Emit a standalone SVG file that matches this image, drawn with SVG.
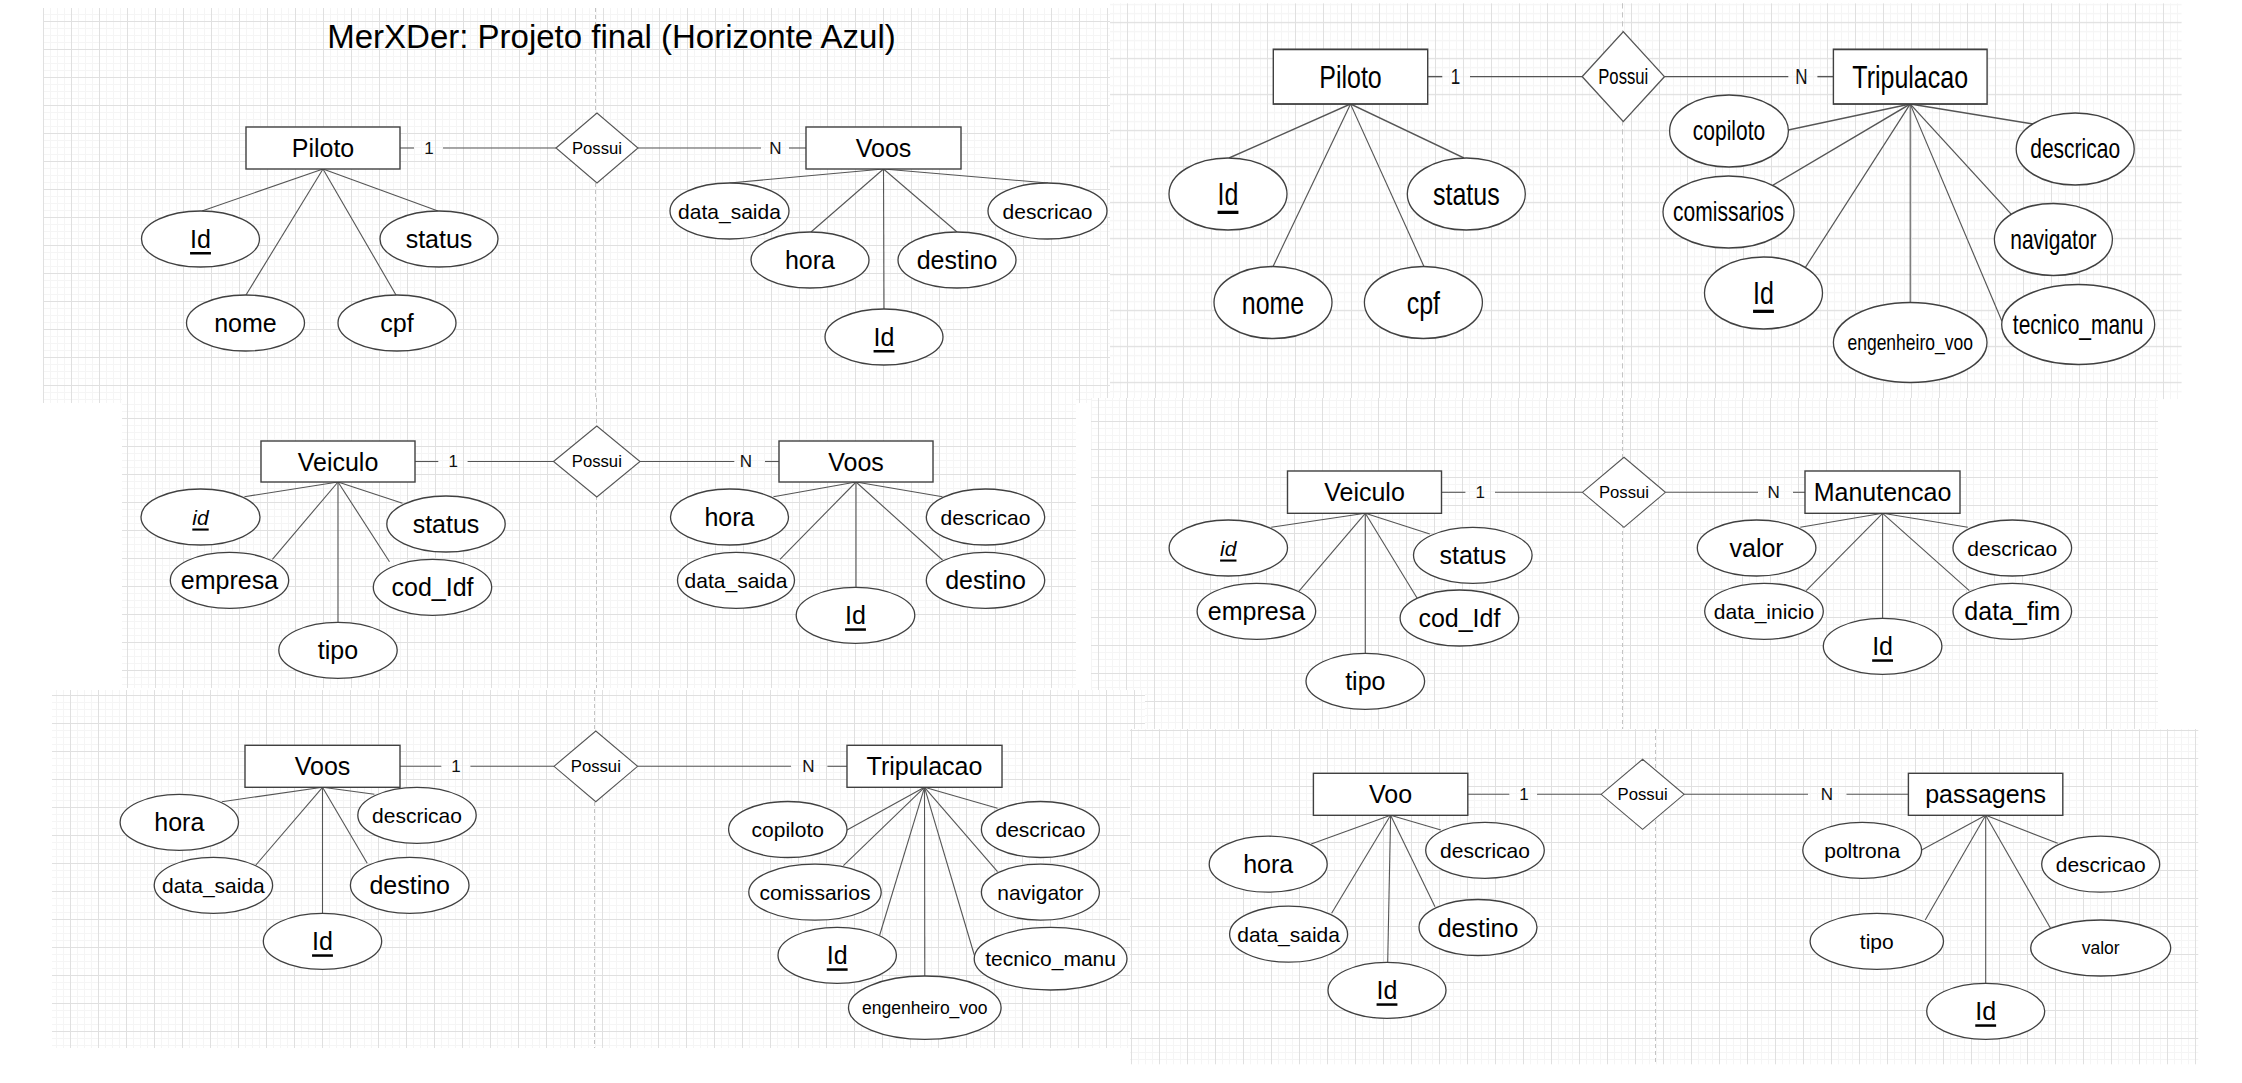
<svg xmlns="http://www.w3.org/2000/svg" width="2242" height="1083" viewBox="0 0 2242 1083">
<defs>
<style>
.t{font-family:"Liberation Sans",Arial,sans-serif;text-anchor:middle;dominant-baseline:central;fill:#000}
.f25{font-size:25px}.f21{font-size:21px}.f17{font-size:17.5px}
.u{text-decoration:underline}.i{font-style:italic}
.rl{font-size:16.7px}.cd{font-size:17px;fill:#111}
.ent rect{fill:#fff;stroke:#404040;stroke-width:1.4}
.attr ellipse{fill:#fff;stroke:#404040;stroke-width:1.3}
.rel polygon{fill:#fff;stroke:#555;stroke-width:1.1}
.con line{stroke:#555;stroke-width:1.1}
.pb{stroke:#c4c4c4;stroke-width:1;stroke-dasharray:4 3}
.minor{stroke:#f5f5f5;stroke-width:1;fill:none}
.major{stroke:#e0e0e0;stroke-width:1;fill:none}
</style>
<pattern id="g1" patternUnits="userSpaceOnUse" x="43" y="21" width="28" height="28"><rect width="28" height="28" fill="#fff"/><path class="minor" d="M7.5 0V28M14.5 0V28M21.5 0V28M0 7.5H28M0 14.5H28M0 21.5H28"/><path class="major" d="M0.5 0V28M0 0.5H28"/></pattern>
<pattern id="g2" patternUnits="userSpaceOnUse" x="1127" y="17" width="28" height="28"><rect width="28" height="28" fill="#fff"/><path class="minor" d="M7.5 0V28M14.5 0V28M21.5 0V28M0 7.5H28M0 14.5H28M0 21.5H28"/><path class="major" d="M0.5 0V28M0 0.5H28"/></pattern>
<pattern id="g3" patternUnits="userSpaceOnUse" x="127" y="418" width="28" height="28"><rect width="28" height="28" fill="#fff"/><path class="minor" d="M7.5 0V28M14.5 0V28M21.5 0V28M0 7.5H28M0 14.5H28M0 21.5H28"/><path class="major" d="M0.5 0V28M0 0.5H28"/></pattern>
<pattern id="g4" patternUnits="userSpaceOnUse" x="1098" y="421" width="28" height="28"><rect width="28" height="28" fill="#fff"/><path class="minor" d="M7.5 0V28M14.5 0V28M21.5 0V28M0 7.5H28M0 14.5H28M0 21.5H28"/><path class="major" d="M0.5 0V28M0 0.5H28"/></pattern>
<pattern id="g5" patternUnits="userSpaceOnUse" x="1050" y="695" width="28" height="28"><rect width="28" height="28" fill="#fff"/><path class="minor" d="M7.5 0V28M14.5 0V28M21.5 0V28M0 7.5H28M0 14.5H28M0 21.5H28"/><path class="major" d="M0.5 0V28M0 0.5H28"/></pattern>
<pattern id="g6" patternUnits="userSpaceOnUse" x="1159" y="730" width="28" height="28"><rect width="28" height="28" fill="#fff"/><path class="minor" d="M7.5 0V28M14.5 0V28M21.5 0V28M0 7.5H28M0 14.5H28M0 21.5H28"/><path class="major" d="M0.5 0V28M0 0.5H28"/></pattern>
</defs>
<rect width="2242" height="1083" fill="#fff"/>

<!-- Panel 1 -->
<g id="panel1">
<rect x="43" y="8" width="1067" height="395" fill="url(#g1)"/>
<line class="pb" x1="595.5" y1="8" x2="595.5" y2="403"/>
<text id="title" class="t" x="611.5" y="36" style="font-size:33px">MerXDer: Projeto final (Horizonte Azul)</text>
<g id="p1-connectors" class="con">
<line x1="400" y1="148" x2="414" y2="148"/><line x1="443" y1="148" x2="556" y2="148"/>
<line x1="638" y1="148" x2="761" y2="148"/><line x1="789" y1="148" x2="806" y2="148"/>
<line x1="323" y1="169" x2="202" y2="211"/><line x1="323" y1="169" x2="438" y2="211"/>
<line x1="323" y1="169" x2="246" y2="295"/><line x1="323" y1="169" x2="396" y2="295"/>
<line x1="883.5" y1="169" x2="729.5" y2="183"/><line x1="883.5" y1="169" x2="1048" y2="183"/>
<line x1="883.5" y1="169" x2="811" y2="232"/><line x1="883.5" y1="169" x2="957" y2="232"/>
<line x1="883.5" y1="169" x2="884" y2="309"/>
</g>
<text class="t cd" x="429" y="148">1</text><text class="t cd" x="775.5" y="148">N</text>
<g id="p1-piloto" class="ent"><rect x="246" y="127" width="154" height="42"/><text class="t f25" x="323" y="148">Piloto</text></g>
<g id="p1-possui" class="rel"><polygon points="556,148 597,113 638,148 597,183"/><text class="t rl" x="597" y="148">Possui</text></g>
<g id="p1-voos" class="ent"><rect x="806" y="127" width="155" height="42"/><text class="t f25" x="883.5" y="148">Voos</text></g>
<g id="p1-id" class="attr"><ellipse cx="200.5" cy="239" rx="59" ry="28"/><text class="t f25 u" x="200.5" y="239">Id</text></g>
<g id="p1-status" class="attr"><ellipse cx="439" cy="239" rx="59" ry="28"/><text class="t f25" x="439" y="239">status</text></g>
<g id="p1-nome" class="attr"><ellipse cx="245.5" cy="323" rx="59" ry="28"/><text class="t f25" x="245.5" y="323">nome</text></g>
<g id="p1-cpf" class="attr"><ellipse cx="397" cy="323" rx="59" ry="28"/><text class="t f25" x="397" y="323">cpf</text></g>
<g id="p1-data-saida" class="attr"><ellipse cx="729.5" cy="211" rx="59.5" ry="28"/><text class="t f21" x="729.5" y="211">data_saida</text></g>
<g id="p1-descricao" class="attr"><ellipse cx="1047.5" cy="211" rx="59.5" ry="28"/><text class="t f21" x="1047.5" y="211">descricao</text></g>
<g id="p1-hora" class="attr"><ellipse cx="810" cy="260" rx="59" ry="28"/><text class="t f25" x="810" y="260">hora</text></g>
<g id="p1-destino" class="attr"><ellipse cx="957" cy="260" rx="59" ry="28"/><text class="t f25" x="957" y="260">destino</text></g>
<g id="p1-voos-id" class="attr"><ellipse cx="884" cy="337" rx="59" ry="28"/><text class="t f25 u" x="884" y="337">Id</text></g>
</g>

<!-- Panel 2 (vertically stretched) -->
<g id="panel2" transform="scale(1,1.2857)">
<rect x="1110" y="2.6" width="1071.6" height="307.8" fill="url(#g2)"/>
<line class="pb" x1="1622.5" y1="2.6" x2="1622.5" y2="310.4"/>
<g id="p2-connectors" class="con">
<line x1="1427.7" y1="59.6" x2="1442.3" y2="59.6"/><line x1="1470" y1="59.6" x2="1582.2" y2="59.6"/>
<line x1="1664.5" y1="59.6" x2="1788.3" y2="59.6"/><line x1="1817.4" y1="59.6" x2="1833.4" y2="59.6"/>
<line x1="1350.5" y1="80.9" x2="1229" y2="122.9"/><line x1="1350.5" y1="80.9" x2="1464" y2="122.9"/>
<line x1="1350.5" y1="80.9" x2="1273" y2="207.3"/><line x1="1350.5" y1="80.9" x2="1424" y2="207.3"/>
<line x1="1910.2" y1="80.9" x2="1788.3" y2="101.1"/><line x1="1910.2" y1="80.9" x2="1773" y2="144"/>
<line x1="1910.2" y1="80.9" x2="1805" y2="208.5"/><line x1="1910.2" y1="80.9" x2="1910.2" y2="235.3"/>
<line x1="1910.2" y1="80.9" x2="2002" y2="250"/><line x1="1910.2" y1="80.9" x2="2011" y2="166.5"/>
<line x1="1910.2" y1="80.9" x2="2033" y2="96.5"/>
</g>
<text class="t cd" x="1455.4" y="59.6">1</text><text class="t cd" x="1801.4" y="59.6">N</text>
<g id="p2-piloto" class="ent"><rect x="1273.3" y="38.4" width="154.4" height="42.5"/><text class="t f25" x="1350.5" y="59.6">Piloto</text></g>
<g id="p2-possui" class="rel"><polygon points="1582.2,59.6 1623.3,24.6 1664.5,59.6 1623.3,94.6"/><text class="t rl" x="1623.3" y="59.6">Possui</text></g>
<g id="p2-tripulacao" class="ent"><rect x="1833.4" y="38.4" width="153.7" height="42.5"/><text class="t f25" x="1910.2" y="59.6">Tripulacao</text></g>
<g id="p2-id" class="attr"><ellipse cx="1228" cy="150.9" rx="59" ry="28"/><text class="t f25 u" x="1228" y="150.9">Id</text></g>
<g id="p2-status" class="attr"><ellipse cx="1466.3" cy="150.9" rx="59" ry="28"/><text class="t f25" x="1466.3" y="150.9">status</text></g>
<g id="p2-nome" class="attr"><ellipse cx="1273" cy="235.3" rx="59" ry="28"/><text class="t f25" x="1273" y="235.3">nome</text></g>
<g id="p2-cpf" class="attr"><ellipse cx="1423.4" cy="235.3" rx="59" ry="28"/><text class="t f25" x="1423.4" y="235.3">cpf</text></g>
<g id="p2-copiloto" class="attr"><ellipse cx="1729" cy="101.9" rx="59.4" ry="28"/><text class="t f21" x="1729" y="101.9">copiloto</text></g>
<g id="p2-comissarios" class="attr"><ellipse cx="1728.5" cy="164.9" rx="65.5" ry="28"/><text class="t f21" x="1728.5" y="164.9">comissarios</text></g>
<g id="p2-descricao" class="attr"><ellipse cx="2075.2" cy="115.9" rx="59" ry="28"/><text class="t f21" x="2075.2" y="115.9">descricao</text></g>
<g id="p2-navigator" class="attr"><ellipse cx="2053.4" cy="186.3" rx="59" ry="28"/><text class="t f21" x="2053.4" y="186.3">navigator</text></g>
<g id="p2-trip-id" class="attr"><ellipse cx="1763.5" cy="227.9" rx="59" ry="28"/><text class="t f25 u" x="1763.5" y="227.9">Id</text></g>
<g id="p2-engenheiro" class="attr"><ellipse cx="1910.2" cy="266.4" rx="76.8" ry="31.1"/><text class="t f17" x="1910.2" y="266.4">engenheiro_voo</text></g>
<g id="p2-tecnico" class="attr"><ellipse cx="2078.2" cy="252.4" rx="76.5" ry="31.1"/><text class="t f21" x="2078.2" y="252.4">tecnico_manu</text></g>
</g>

<!-- Panel 3 -->
<g id="panel3">
<rect x="122" y="398" width="954" height="290" fill="url(#g3)"/>
<line class="pb" x1="596.5" y1="398" x2="596.5" y2="688"/>
<g id="p3-connectors" class="con">
<line x1="415" y1="461.5" x2="438.3" y2="461.5"/><line x1="467.6" y1="461.5" x2="553.5" y2="461.5"/>
<line x1="640" y1="461.5" x2="734.3" y2="461.5"/><line x1="765" y1="461.5" x2="779" y2="461.5"/>
<line x1="338" y1="482" x2="244.4" y2="496.7"/><line x1="338" y1="482" x2="272.4" y2="559.3"/>
<line x1="338" y1="482" x2="338" y2="622.3"/><line x1="338" y1="482" x2="389.5" y2="561.7"/>
<line x1="338" y1="482" x2="402.5" y2="503.3"/>
<line x1="856" y1="482" x2="773.4" y2="496.7"/><line x1="856" y1="482" x2="780" y2="559.3"/>
<line x1="856" y1="482" x2="856" y2="587.3"/><line x1="856" y1="482" x2="942.5" y2="560"/>
<line x1="856" y1="482" x2="942.5" y2="496.7"/>
</g>
<text class="t cd" x="453.3" y="461.5">1</text><text class="t cd" x="746" y="461.5">N</text>
<g id="p3-veiculo" class="ent"><rect x="261" y="441" width="154" height="41"/><text class="t f25" x="338" y="461.5">Veiculo</text></g>
<g id="p3-possui" class="rel"><polygon points="553.5,461.5 596.8,426 640,461.5 596.8,497"/><text class="t rl" x="596.8" y="461.5">Possui</text></g>
<g id="p3-voos" class="ent"><rect x="779" y="441" width="154" height="41"/><text class="t f25" x="856" y="461.5">Voos</text></g>
<g id="p3-id" class="attr"><ellipse cx="200.5" cy="517" rx="59.5" ry="28"/><text class="t f21 u i" x="200.5" y="517">id</text></g>
<g id="p3-empresa" class="attr"><ellipse cx="229.5" cy="580.3" rx="59.2" ry="28"/><text class="t f25" x="229.5" y="580.3">empresa</text></g>
<g id="p3-tipo" class="attr"><ellipse cx="338" cy="650.3" rx="59.2" ry="28"/><text class="t f25" x="338" y="650.3">tipo</text></g>
<g id="p3-cod-idf" class="attr"><ellipse cx="432.5" cy="587.3" rx="59.2" ry="28"/><text class="t f25" x="432.5" y="587.3">cod_Idf</text></g>
<g id="p3-status" class="attr"><ellipse cx="446" cy="524" rx="59.2" ry="28"/><text class="t f25" x="446" y="524">status</text></g>
<g id="p3-hora" class="attr"><ellipse cx="729.5" cy="517" rx="59" ry="28"/><text class="t f25" x="729.5" y="517">hora</text></g>
<g id="p3-data-saida" class="attr"><ellipse cx="736" cy="580.3" rx="58.5" ry="28"/><text class="t f21" x="736" y="580.3">data_saida</text></g>
<g id="p3-voos-id" class="attr"><ellipse cx="855.5" cy="615.3" rx="59.3" ry="28"/><text class="t f25 u" x="855.5" y="615.3">Id</text></g>
<g id="p3-destino" class="attr"><ellipse cx="985.5" cy="580.3" rx="59.2" ry="28"/><text class="t f25" x="985.5" y="580.3">destino</text></g>
<g id="p3-descricao" class="attr"><ellipse cx="985.5" cy="517" rx="59.2" ry="28"/><text class="t f21" x="985.5" y="517">descricao</text></g>
</g>

<!-- Panel 4 -->
<g id="panel4">
<rect x="1091" y="398" width="1067" height="331" fill="url(#g4)"/>
<line class="pb" x1="1622.5" y1="398" x2="1622.5" y2="729"/>
<g id="p4-connectors" class="con">
<line x1="1441.6" y1="492.3" x2="1465.4" y2="492.3"/><line x1="1495" y1="492.3" x2="1582.4" y2="492.3"/>
<line x1="1665.4" y1="492.3" x2="1758" y2="492.3"/><line x1="1793" y1="492.3" x2="1805" y2="492.3"/>
<line x1="1365.3" y1="513.3" x2="1271.2" y2="527.3"/><line x1="1365.3" y1="513.3" x2="1298.6" y2="591.7"/>
<line x1="1365.3" y1="513.3" x2="1365.3" y2="653.3"/><line x1="1365.3" y1="513.3" x2="1417.2" y2="598.3"/>
<line x1="1365.3" y1="513.3" x2="1429.8" y2="534"/>
<line x1="1882.6" y1="513.3" x2="1800.3" y2="527.3"/><line x1="1882.6" y1="513.3" x2="1806.2" y2="590.7"/>
<line x1="1882.6" y1="513.3" x2="1882.6" y2="618.3"/><line x1="1882.6" y1="513.3" x2="1969.3" y2="590.7"/>
<line x1="1882.6" y1="513.3" x2="1967.8" y2="527.3"/>
</g>
<text class="t cd" x="1480.2" y="492.3">1</text><text class="t cd" x="1773.6" y="492.3">N</text>
<g id="p4-veiculo" class="ent"><rect x="1287.5" y="471" width="154" height="42.3"/><text class="t f25" x="1364.5" y="492.3">Veiculo</text></g>
<g id="p4-possui" class="rel"><polygon points="1582.4,492.3 1624,457.3 1665.4,492.3 1624,527.3"/><text class="t rl" x="1624" y="492.3">Possui</text></g>
<g id="p4-manutencao" class="ent"><rect x="1805" y="471" width="155" height="42.3"/><text class="t f25" x="1882.5" y="492.3">Manutencao</text></g>
<g id="p4-id" class="attr"><ellipse cx="1228.3" cy="548" rx="59.2" ry="28"/><text class="t f21 u i" x="1228.3" y="548">id</text></g>
<g id="p4-empresa" class="attr"><ellipse cx="1256.4" cy="611.3" rx="59.3" ry="28"/><text class="t f25" x="1256.4" y="611.3">empresa</text></g>
<g id="p4-tipo" class="attr"><ellipse cx="1365.3" cy="681.3" rx="59.3" ry="28"/><text class="t f25" x="1365.3" y="681.3">tipo</text></g>
<g id="p4-cod-idf" class="attr"><ellipse cx="1459.4" cy="618" rx="59.3" ry="28"/><text class="t f25" x="1459.4" y="618">cod_Idf</text></g>
<g id="p4-status" class="attr"><ellipse cx="1472.8" cy="555.3" rx="59.3" ry="28"/><text class="t f25" x="1472.8" y="555.3">status</text></g>
<g id="p4-valor" class="attr"><ellipse cx="1756.6" cy="548" rx="59.3" ry="28"/><text class="t f25" x="1756.6" y="548">valor</text></g>
<g id="p4-data-inicio" class="attr"><ellipse cx="1764" cy="611.3" rx="59.3" ry="28"/><text class="t f21" x="1764" y="611.3">data_inicio</text></g>
<g id="p4-manut-id" class="attr"><ellipse cx="1882.6" cy="646.3" rx="59.3" ry="28"/><text class="t f25 u" x="1882.6" y="646.3">Id</text></g>
<g id="p4-data-fim" class="attr"><ellipse cx="2012.3" cy="611.3" rx="59.3" ry="28"/><text class="t f25" x="2012.3" y="611.3">data_fim</text></g>
<g id="p4-descricao" class="attr"><ellipse cx="2012.3" cy="548" rx="59.3" ry="28"/><text class="t f21" x="2012.3" y="548">descricao</text></g>
</g>

<!-- Panel 5 -->
<g id="panel5">
<rect x="52" y="690" width="1093" height="358" fill="url(#g5)"/>
<line class="pb" x1="594.5" y1="690" x2="594.5" y2="1048"/>
<g id="p5-connectors" class="con">
<line x1="400" y1="766.3" x2="441.3" y2="766.3"/><line x1="470.4" y1="766.3" x2="554" y2="766.3"/>
<line x1="637.6" y1="766.3" x2="791" y2="766.3"/><line x1="827.4" y1="766.3" x2="847" y2="766.3"/>
<line x1="322.5" y1="787.3" x2="221.8" y2="801.7"/><line x1="322.5" y1="787.3" x2="374.4" y2="794.3"/>
<line x1="322.5" y1="787.3" x2="255.9" y2="865"/><line x1="322.5" y1="787.3" x2="367.2" y2="863.3"/>
<line x1="322.5" y1="787.3" x2="322.5" y2="913.3"/>
<line x1="924.5" y1="787.3" x2="847" y2="830"/><line x1="924.5" y1="787.3" x2="843.4" y2="865.7"/>
<line x1="924.5" y1="787.3" x2="879.7" y2="935"/><line x1="924.5" y1="787.3" x2="924.8" y2="976"/>
<line x1="924.5" y1="787.3" x2="974.3" y2="955"/><line x1="924.5" y1="787.3" x2="997.5" y2="871.7"/>
<line x1="924.5" y1="787.3" x2="997.5" y2="808.3"/>
</g>
<text class="t cd" x="455.9" y="766.3">1</text><text class="t cd" x="808.5" y="766.3">N</text>
<g id="p5-voos" class="ent"><rect x="245" y="745.3" width="155" height="42"/><text class="t f25" x="322.5" y="766.3">Voos</text></g>
<g id="p5-possui" class="rel"><polygon points="554,766.3 595.8,731 637.6,766.3 595.8,801.7"/><text class="t rl" x="595.8" y="766.3">Possui</text></g>
<g id="p5-tripulacao" class="ent"><rect x="847" y="745.3" width="155" height="42"/><text class="t f25" x="924.5" y="766.3">Tripulacao</text></g>
<g id="p5-hora" class="attr"><ellipse cx="179.3" cy="822.3" rx="59.2" ry="28"/><text class="t f25" x="179.3" y="822.3">hora</text></g>
<g id="p5-descricao" class="attr"><ellipse cx="417" cy="815.3" rx="59.2" ry="28"/><text class="t f21" x="417" y="815.3">descricao</text></g>
<g id="p5-data-saida" class="attr"><ellipse cx="213.4" cy="885.3" rx="59.2" ry="28"/><text class="t f21" x="213.4" y="885.3">data_saida</text></g>
<g id="p5-destino" class="attr"><ellipse cx="409.7" cy="885.3" rx="59.3" ry="28"/><text class="t f25" x="409.7" y="885.3">destino</text></g>
<g id="p5-voos-id" class="attr"><ellipse cx="322.5" cy="941.3" rx="59.2" ry="28"/><text class="t f25 u" x="322.5" y="941.3">Id</text></g>
<g id="p5-copiloto" class="attr"><ellipse cx="787.8" cy="829.5" rx="59.2" ry="28"/><text class="t f21" x="787.8" y="829.5">copiloto</text></g>
<g id="p5-comissarios" class="attr"><ellipse cx="815" cy="892.2" rx="66.2" ry="28"/><text class="t f21" x="815" y="892.2">comissarios</text></g>
<g id="p5-trip-id" class="attr"><ellipse cx="837.2" cy="955.3" rx="59.2" ry="28"/><text class="t f25 u" x="837.2" y="955.3">Id</text></g>
<g id="p5-engenheiro" class="attr"><ellipse cx="924.8" cy="1007.7" rx="76.3" ry="31.7"/><text class="t f17" x="924.8" y="1007.7">engenheiro_voo</text></g>
<g id="p5-tecnico" class="attr"><ellipse cx="1050.6" cy="958.7" rx="76.4" ry="31.3"/><text class="t f21" x="1050.6" y="958.7">tecnico_manu</text></g>
<g id="p5-navigator" class="attr"><ellipse cx="1040.4" cy="892.2" rx="59" ry="28"/><text class="t f21" x="1040.4" y="892.2">navigator</text></g>
<g id="p5-trip-descricao" class="attr"><ellipse cx="1040.4" cy="829.5" rx="59" ry="28"/><text class="t f21" x="1040.4" y="829.5">descricao</text></g>
</g>

<!-- Panel 6 -->
<g id="panel6">
<rect x="1130" y="729" width="1068.3" height="335.3" fill="url(#g6)"/>
<line class="pb" x1="1655.5" y1="729" x2="1655.5" y2="1064"/>
<g id="p6-connectors" class="con">
<line x1="1467.8" y1="794.3" x2="1509.3" y2="794.3"/><line x1="1537" y1="794.3" x2="1601.1" y2="794.3"/>
<line x1="1684.1" y1="794.3" x2="1808" y2="794.3"/><line x1="1846.5" y1="794.3" x2="1908.4" y2="794.3"/>
<line x1="1390.6" y1="815.3" x2="1311.2" y2="844"/><line x1="1390.6" y1="815.3" x2="1440.9" y2="830"/>
<line x1="1390.6" y1="815.3" x2="1331.6" y2="913.3"/><line x1="1390.6" y1="815.3" x2="1435" y2="906.7"/>
<line x1="1390.6" y1="815.3" x2="1387.7" y2="962.3"/>
<line x1="1985.7" y1="815.3" x2="1921.6" y2="850"/><line x1="1985.7" y1="815.3" x2="2057.7" y2="843.3"/>
<line x1="1985.7" y1="815.3" x2="1925.2" y2="920"/><line x1="1985.7" y1="815.3" x2="2050.5" y2="928.3"/>
<line x1="1985.7" y1="815.3" x2="1985.7" y2="983.3"/>
</g>
<text class="t cd" x="1523.9" y="794.3">1</text><text class="t cd" x="1826.9" y="794.3">N</text>
<g id="p6-voo" class="ent"><rect x="1313.4" y="773.3" width="154.4" height="42"/><text class="t f25" x="1390.6" y="794.3">Voo</text></g>
<g id="p6-possui" class="rel"><polygon points="1601.1,794.3 1642.6,759.3 1684.1,794.3 1642.6,829.3"/><text class="t rl" x="1642.6" y="794.3">Possui</text></g>
<g id="p6-passagens" class="ent"><rect x="1908.4" y="773.3" width="154.4" height="42"/><text class="t f25" x="1985.6" y="794.3">passagens</text></g>
<g id="p6-hora" class="attr"><ellipse cx="1268.2" cy="864.2" rx="59" ry="28"/><text class="t f25" x="1268.2" y="864.2">hora</text></g>
<g id="p6-descricao" class="attr"><ellipse cx="1485" cy="850.3" rx="59.3" ry="28"/><text class="t f21" x="1485" y="850.3">descricao</text></g>
<g id="p6-data-saida" class="attr"><ellipse cx="1288.6" cy="934.2" rx="59" ry="28"/><text class="t f21" x="1288.6" y="934.2">data_saida</text></g>
<g id="p6-destino" class="attr"><ellipse cx="1478" cy="927.5" rx="59" ry="28"/><text class="t f25" x="1478" y="927.5">destino</text></g>
<g id="p6-voo-id" class="attr"><ellipse cx="1387" cy="990.3" rx="59" ry="28"/><text class="t f25 u" x="1387" y="990.3">Id</text></g>
<g id="p6-poltrona" class="attr"><ellipse cx="1862.2" cy="850.3" rx="59.4" ry="28"/><text class="t f21" x="1862.2" y="850.3">poltrona</text></g>
<g id="p6-pass-descricao" class="attr"><ellipse cx="2100.7" cy="864.2" rx="59" ry="28"/><text class="t f21" x="2100.7" y="864.2">descricao</text></g>
<g id="p6-tipo" class="attr"><ellipse cx="1876.8" cy="941.3" rx="66.7" ry="28"/><text class="t f21" x="1876.8" y="941.3">tipo</text></g>
<g id="p6-valor" class="attr"><ellipse cx="2100.7" cy="948" rx="70" ry="28"/><text class="t f17" x="2100.7" y="948">valor</text></g>
<g id="p6-pass-id" class="attr"><ellipse cx="1985.7" cy="1011.3" rx="59" ry="28"/><text class="t f25 u" x="1985.7" y="1011.3">Id</text></g>
</g>
</svg>
